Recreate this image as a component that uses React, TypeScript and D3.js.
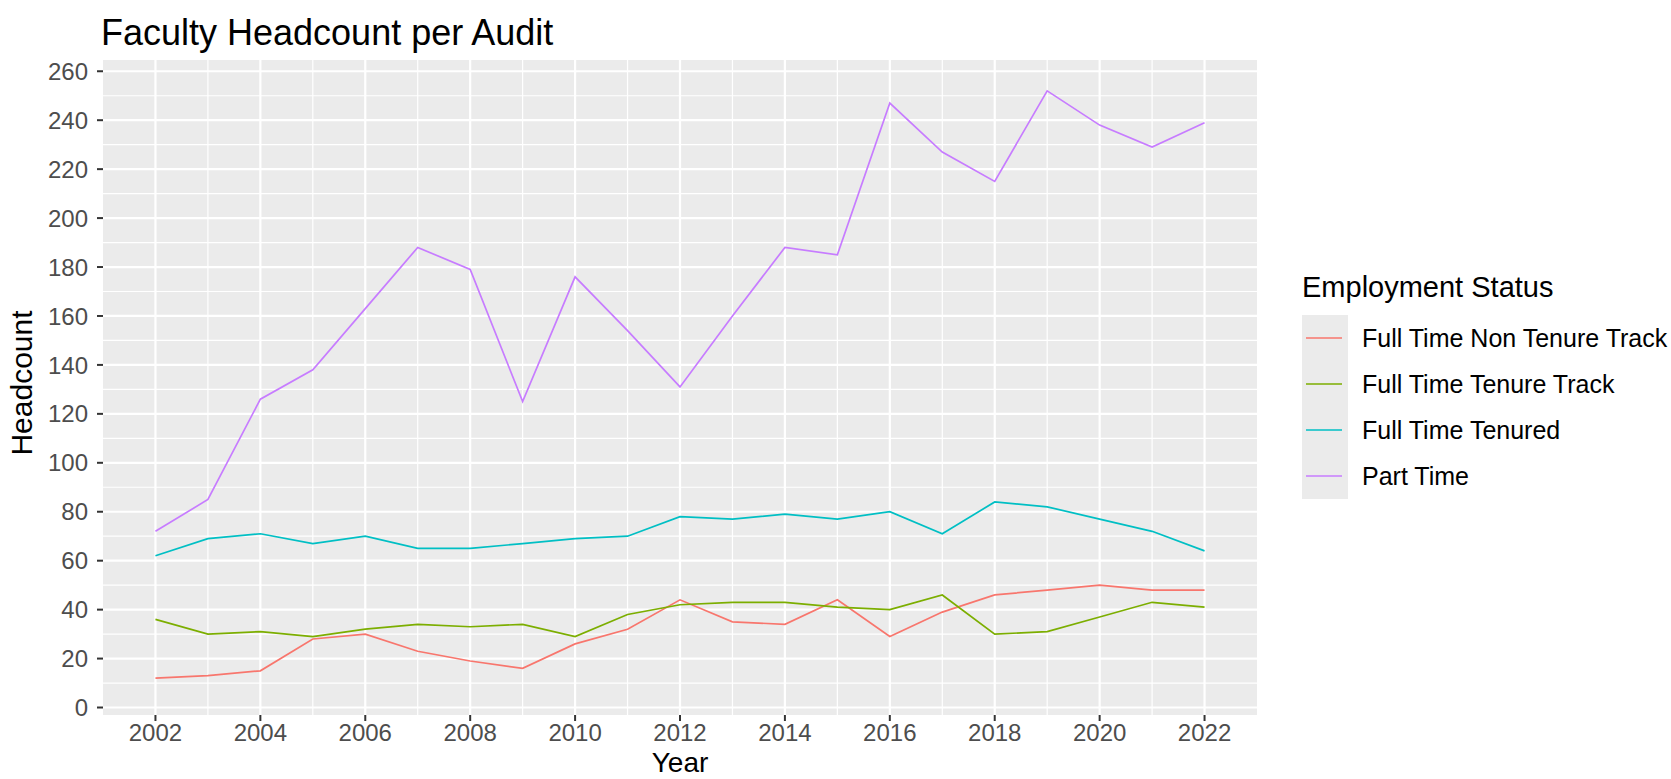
import React from "react";
import * as d3 from "d3";

const years = [2002, 2003, 2004, 2005, 2006, 2007, 2008, 2009, 2010, 2011, 2012, 2013, 2014, 2015, 2016, 2017, 2018, 2019, 2020, 2021, 2022];
const seriesNames = ["Full Time Non Tenure Track", "Full Time Tenure Track", "Full Time Tenured", "Part Time"];
const nonTenureTrack = [12, 13, 15, 28, 30, 23, 19, 16, 26, 32, 44, 35, 34, 44, 29, 39, 46, 48, 50, 48, 48];
const tenureTrack = [36, 30, 31, 29, 32, 34, 33, 34, 29, 38, 42, 43, 43, 41, 40, 46, 30, 31, 37, 43, 41];
const tenured = [62, 69, 71, 67, 70, 65, 65, 67, 69, 70, 78, 77, 79, 77, 80, 71, 84, 82, 77, 72, 64];
const partTime = [72, 85, 126, 138, 163, 188, 179, 125, 176, 154, 131, 160, 188, 185, 247, 227, 215, 252, 238, 229, 239];
const xTicks = [2002, 2004, 2006, 2008, 2010, 2012, 2014, 2016, 2018, 2020, 2022];
const yTicks = [0, 20, 40, 60, 80, 100, 120, 140, 160, 180, 200, 220, 240, 260];
const colors = ["#F8766D", "#7CAE00", "#00BFC4", "#C77CFF"];

const W = 1671;
const H = 779;
const panel = { left: 103, right: 1257, top: 60, bottom: 715 };
const font = "Arial, 'Liberation Sans', sans-serif";

export default function App() {
  const x = d3.scaleLinear().domain([2001, 2023]).range([panel.left, panel.right]);
  const y = d3.scaleLinear().domain([-3.06, 264.6]).range([panel.bottom, panel.top]);
  const allSeries = [nonTenureTrack, tenureTrack, tenured, partTime];
  const line = d3
    .line<number>()
    .x((_, i) => x(years[i]))
    .y((d) => y(d));
  const xMinor = d3.range(2003, 2022, 2);
  const yMinor = d3.range(10, 260, 20);
  const legendX = 1302;
  const legendTop = 315;
  const keyH = 46;

  return (
    <svg
      width={W}
      height={H}
      style={{ position: "absolute", left: 0, top: 0, background: "#fff" }}
      fontFamily={font}
    >
      <rect x={0} y={0} width={W} height={H} fill="#fff" />
      <rect
        x={panel.left}
        y={panel.top}
        width={panel.right - panel.left}
        height={panel.bottom - panel.top}
        fill="#EBEBEB"
      />
      {yMinor.map((v) => (
        <line key={"ym" + v} x1={panel.left} x2={panel.right} y1={y(v)} y2={y(v)} stroke="#fff" strokeWidth={1.2} />
      ))}
      {xMinor.map((v) => (
        <line key={"xm" + v} y1={panel.top} y2={panel.bottom} x1={x(v)} x2={x(v)} stroke="#fff" strokeWidth={1.2} />
      ))}
      {yTicks.map((v) => (
        <line key={"yg" + v} x1={panel.left} x2={panel.right} y1={y(v)} y2={y(v)} stroke="#fff" strokeWidth={2.2} />
      ))}
      {xTicks.map((v) => (
        <line key={"xg" + v} y1={panel.top} y2={panel.bottom} x1={x(v)} x2={x(v)} stroke="#fff" strokeWidth={2.2} />
      ))}
      {allSeries.map((s, i) => (
        <path key={"s" + i} d={line(s) || ""} fill="none" stroke={colors[i]} strokeWidth={1.7} />
      ))}
      {yTicks.map((v) => (
        <g key={"yt" + v}>
          <line x1={panel.left - 6} x2={panel.left} y1={y(v)} y2={y(v)} stroke="#333" strokeWidth={2} />
          <text x={panel.left - 15} y={y(v)} dy="0.36em" textAnchor="end" fontSize={24} fill="#4D4D4D">
            {v}
          </text>
        </g>
      ))}
      {xTicks.map((v) => (
        <g key={"xt" + v}>
          <line x1={x(v)} x2={x(v)} y1={panel.bottom} y2={panel.bottom + 6} stroke="#333" strokeWidth={2} />
          <text x={x(v)} y={741} textAnchor="middle" fontSize={24} fill="#4D4D4D">
            {v}
          </text>
        </g>
      ))}
      <text x={(panel.left + panel.right) / 2} y={772} textAnchor="middle" fontSize={28} fill="#000">
        Year
      </text>
      <text
        transform={`translate(32, 383) rotate(-90)`}
        textAnchor="middle"
        fontSize={30}
        fill="#000"
      >
        Headcount
      </text>
      <text x={101} y={45} fontSize={36} fill="#000">
        Faculty Headcount per Audit
      </text>
      <text x={1302} y={297} fontSize={29} fill="#000">
        Employment Status
      </text>
      <rect x={legendX} y={legendTop} width={46} height={keyH * 4} fill="#EBEBEB" />
      {seriesNames.map((name, i) => {
        const cy = legendTop + keyH * i + keyH / 2;
        return (
          <g key={"lg" + i}>
            <line x1={legendX + 4} x2={legendX + 40} y1={cy} y2={cy} stroke={colors[i]} strokeWidth={1.7} />
            <text x={1362} y={cy} dy="0.36em" fontSize={25} fill="#000">
              {name}
            </text>
          </g>
        );
      })}
    </svg>
  );
}
